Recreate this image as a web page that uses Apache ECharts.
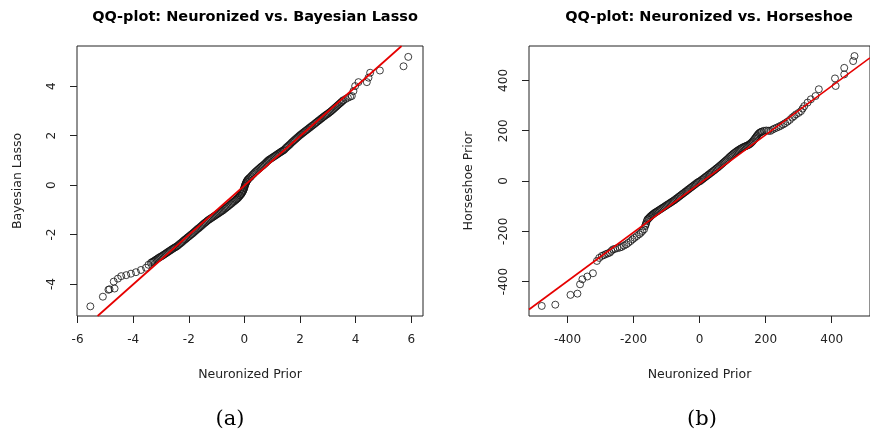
<!DOCTYPE html>
<html><head><meta charset="utf-8">
<script src="https://cdn.jsdelivr.net/npm/echarts@6/dist/echarts.min.js"></script>
<style>html,body{margin:0;padding:0;background:#fff}#c{width:870px;height:436px}</style>
</head><body><div id="c"></div>
<script>
// ---------- data ----------
const titleA = 'QQ-plot: Neuronized vs. Bayesian Lasso';
const titleB = 'QQ-plot: Neuronized vs. Horseshoe';
const xNameA = 'Neuronized Prior', yNameA = 'Bayesian Lasso';
const xNameB = 'Neuronized Prior', yNameB = 'Horseshoe Prior';
const capA = '(a)', capB = '(b)';

const xTicksA = [-6, -4, -2, 0, 2, 4, 6];
const yTicksA = [-4, -2, 0, 2, 4];
const xTicksB = [-400, -200, 0, 200, 400];
const yTicksB = [-400, -200, 0, 200, 400];

// QQ points (a): [Neuronized quantile, Bayesian Lasso quantile]
const qqA = [
  [-5.54,-4.90],[-5.09,-4.51],[-4.89,-4.23],[-4.85,-4.21],[-4.67,-4.18],[-4.70,-3.90],[-4.55,-3.78],
  [-4.43,-3.68],[-4.25,-3.64],[-4.08,-3.58],[-3.90,-3.52],[-3.72,-3.43],[-3.54,-3.34],[-3.45,-3.22],[-3.36,-3.14],
  [-3.32,-3.11],[-3.28,-3.09],[-3.24,-3.06],[-3.20,-3.03],[-3.16,-3.00],[-3.12,-2.97],[-3.08,-2.94],[-3.04,-2.91],
  [-3.00,-2.89],[-2.96,-2.86],[-2.92,-2.83],[-2.88,-2.80],[-2.84,-2.77],[-2.80,-2.74],[-2.76,-2.71],[-2.72,-2.68],
  [-2.68,-2.65],[-2.64,-2.62],[-2.60,-2.59],[-2.56,-2.56],[-2.52,-2.53],[-2.48,-2.51],[-2.44,-2.48],[-2.40,-2.45],
  [-2.36,-2.41],[-2.32,-2.37],[-2.28,-2.34],[-2.24,-2.30],[-2.20,-2.26],[-2.16,-2.22],[-2.12,-2.19],[-2.08,-2.15],
  [-2.04,-2.11],[-2.00,-2.08],[-1.96,-2.04],[-1.92,-2.00],[-1.88,-1.97],[-1.84,-1.93],[-1.80,-1.89],[-1.76,-1.85],
  [-1.72,-1.81],[-1.68,-1.77],[-1.64,-1.74],[-1.60,-1.70],[-1.56,-1.66],[-1.52,-1.62],[-1.48,-1.58],[-1.44,-1.54],
  [-1.40,-1.51],[-1.36,-1.47],[-1.32,-1.43],[-1.28,-1.40],[-1.24,-1.37],[-1.20,-1.34],[-1.16,-1.31],[-1.12,-1.28],
  [-1.08,-1.25],[-1.04,-1.22],[-1.00,-1.19],[-0.96,-1.16],[-0.92,-1.13],[-0.88,-1.10],[-0.84,-1.07],[-0.80,-1.04],
  [-0.76,-1.01],[-0.72,-0.97],[-0.68,-0.94],[-0.64,-0.90],[-0.60,-0.87],[-0.56,-0.83],[-0.52,-0.79],[-0.48,-0.76],
  [-0.44,-0.72],[-0.40,-0.68],[-0.36,-0.65],[-0.32,-0.61],[-0.29,-0.58],[-0.26,-0.55],[-0.23,-0.52],[-0.20,-0.48],
  [-0.17,-0.44],[-0.15,-0.41],[-0.12,-0.37],[-0.10,-0.34],[-0.08,-0.30],[-0.06,-0.26],[-0.04,-0.22],[-0.03,-0.18],
  [-0.01,-0.13],[0.00,-0.09],[0.01,-0.04],[0.02,0.00],[0.04,0.04],[0.05,0.08],[0.07,0.12],[0.08,0.15],[0.10,0.19],
  [0.12,0.22],[0.15,0.26],[0.18,0.29],[0.22,0.33],[0.25,0.37],[0.29,0.42],[0.33,0.46],[0.37,0.51],[0.41,0.55],
  [0.45,0.59],[0.49,0.63],[0.53,0.67],[0.57,0.71],[0.61,0.75],[0.65,0.78],[0.69,0.82],[0.73,0.86],[0.77,0.90],
  [0.80,0.94],[0.84,0.98],[0.87,1.01],[0.91,1.04],[0.95,1.07],[0.99,1.10],[1.03,1.13],[1.07,1.16],[1.11,1.19],
  [1.15,1.22],[1.19,1.25],[1.23,1.28],[1.27,1.31],[1.31,1.34],[1.34,1.36],[1.38,1.39],[1.41,1.41],[1.45,1.45],
  [1.49,1.50],[1.53,1.54],[1.57,1.58],[1.61,1.62],[1.65,1.66],[1.69,1.71],[1.73,1.75],[1.77,1.79],[1.81,1.83],
  [1.85,1.87],[1.89,1.91],[1.93,1.95],[1.97,1.99],[2.01,2.03],[2.05,2.06],[2.09,2.10],[2.13,2.13],[2.17,2.17],
  [2.21,2.20],[2.25,2.24],[2.29,2.27],[2.33,2.31],[2.37,2.34],[2.41,2.38],[2.45,2.41],[2.50,2.45],[2.54,2.49],
  [2.58,2.53],[2.62,2.56],[2.66,2.60],[2.70,2.63],[2.74,2.67],[2.78,2.70],[2.82,2.74],[2.86,2.77],[2.90,2.81],
  [2.94,2.84],[2.98,2.87],[3.02,2.90],[3.06,2.94],[3.10,2.97],[3.14,3.01],[3.18,3.05],[3.22,3.09],[3.26,3.13],
  [3.30,3.17],[3.34,3.21],[3.38,3.25],[3.42,3.29],[3.46,3.33],[3.49,3.36],[3.53,3.40],[3.56,3.43],
  [3.64,3.48],[3.72,3.53],[3.80,3.57],[3.86,3.60],[3.92,3.80],[3.98,4.00],[4.10,4.16],[4.40,4.16],
  [4.46,4.34],[4.52,4.54],[4.87,4.63],[5.72,4.80],[5.89,5.18]
];
// QQ points (b): [Neuronized quantile, Horseshoe quantile]
const qqB = [
  [-478,-497],[-437,-492],[-391,-453],[-370,-448],[-362,-411],[-355,-391],[-340,-380],[-323,-367],
  [-311,-318],[-304,-306],[-296,-298],[-290,-295],[-284,-291],[-278,-288],[-272,-285],[-267,-278],[-262,-272],
  [-256,-270],[-249,-267],[-242,-265],[-236,-262],[-229,-257],[-222,-252],[-216,-246],[-209,-239],[-203,-232],
  [-197,-226],[-190,-219],[-183,-212],[-178,-206],[-173,-199],[-168,-192],
  [-165,-180],[-163.5,-174],[-162,-168],[-160,-160],[-158,-153],[-155.5,-150],[-153,-147],[-150.5,-143],
  [-148,-140],[-145.5,-137],[-143,-134],[-140,-131],[-137,-128],[-134,-125],[-131,-123],[-127.5,-120],
  [-124,-117],[-120.5,-114],[-117,-111],[-113.5,-108],[-110,-105],[-106.5,-102],[-103,-99],[-99.5,-96],
  [-96,-93],[-92.5,-90],[-89,-87],[-85.5,-84],[-82,-81],[-78.5,-78],[-75,-75],[-71.5,-71],[-68,-68],
  [-64.5,-64],[-61,-61],[-57.5,-57],[-54,-54],[-50.5,-50],[-47,-47],[-43.5,-43],[-40,-40],[-36.5,-36],
  [-33,-33],[-29.5,-29],[-26,-26],[-22.5,-22],[-19,-19],[-15.5,-15],[-12,-12],[-8.5,-8],[-5,-5],[-1.5,-2],
  [2,0],[5.5,4],[9,7],[12.5,11],[16,14],[19.5,18],[23,21],[26.5,25],[30,28],[33.5,32],[37,35],[40.5,39],
  [44,42],[47.5,46],[51,50],[54.5,53],[58,57],[61.5,61],[65,65],[68.5,69],[72,73],[75.5,77],[79,81],
  [82.5,85],[86,89],[89.5,94],[93,98],[96.5,102],[100,106],[103.5,110],[107,113],[110.5,117],[114,120],
  [117.5,123],[121,126],[124.5,129],[128,131],[131.5,134],[135,136],[138.5,138],[142,140],[145.5,142],
  [149,144],[152,147],[155,150],[158,154],[161,158],[164,163],[167,168],[169.5,172],[172,177],[174.5,181],
  [177,186],[180,190],[183,193],[186,195],[189,197],
  [195,200],[202,201],[208,200],[214,199],[220,204],[226,208],[233,212],[240,216],[246,220],[253,225],
  [259,230],[266,236],[273,243],[280,252],[286,258],[292,265],[300,271],[307,278],[312,288],[317,298],
  [327,312],[337,325],[351,338],[361,365],[412,378],[410,408],[438,424],[438,450],[465,477],[469,497]
];
// reference (qqline) end points
const lineA = [[-5.28,-5.29],[5.65,5.62]];
const lineB = [[-516.6,-511],[516,490]];

// ---------- chart ----------
const FONT = '"DejaVu Sans", Arial, sans-serif';
const ink = '#222';
function xAxis(idx, min, max, ticks, name) {
  return {
    gridIndex: idx, type: 'value', min: min, max: max,
    axisLine: {show: false, onZero: false}, splitLine: {show: false},
    axisTick: {show: true, length: 7, customValues: ticks, lineStyle: {color: ink, width: 1}},
    axisLabel: {customValues: ticks, margin: 18, fontSize: 12, color: ink, fontFamily: FONT},
    name: name, nameLocation: 'middle', nameGap: 52,
    nameTextStyle: {fontSize: 12.5, color: ink, fontFamily: FONT}
  };
}
function yAxis(idx, min, max, ticks, name, gap) {
  return {
    gridIndex: idx, type: 'value', min: min, max: max,
    axisLine: {show: false, onZero: false}, splitLine: {show: false},
    axisTick: {show: true, length: 7, customValues: ticks, lineStyle: {color: ink, width: 1}},
    axisLabel: {customValues: ticks, margin: 19, rotate: 90, fontSize: 12, color: ink, fontFamily: FONT},
    name: name, nameLocation: 'middle', nameGap: gap,
    nameTextStyle: {fontSize: 12.5, color: ink, fontFamily: FONT}
  };
}
function pts(idx, data) {
  return {
    type: 'scatter', xAxisIndex: idx, yAxisIndex: idx, data: data,
    symbol: 'circle', symbolSize: 7, silent: true, z: 2,
    itemStyle: {color: 'rgba(0,0,0,0)', borderColor: '#111', borderWidth: 1}
  };
}
function ref(idx, data) {
  return {
    type: 'line', xAxisIndex: idx, yAxisIndex: idx, data: data, symbol: 'none',
    silent: true, z: 3, lineStyle: {color: '#e60000', width: 1.7}
  };
}
const chart = echarts.init(document.getElementById('c'), null, {renderer: 'canvas'});
chart.setOption({
  animation: false,
  backgroundColor: '#fff',
  title: [
    {text: titleA, left: 250, top: 5, textAlign: 'center',
     textStyle: {fontSize: 14.5, fontWeight: 'bold', color: '#000', fontFamily: FONT}},
    {text: titleB, left: 704, top: 5, textAlign: 'center',
     textStyle: {fontSize: 14.5, fontWeight: 'bold', color: '#000', fontFamily: FONT}}
  ],
  grid: [
    {left: 77, top: 46, width: 346, height: 270, show: true, borderColor: ink, borderWidth: 1, backgroundColor: 'transparent'},
    {left: 529, top: 46, width: 350, height: 270, show: true, borderColor: ink, borderWidth: 1, backgroundColor: 'transparent'}
  ],
  xAxis: [xAxis(0, -6.02, 6.42, xTicksA, xNameA), xAxis(1, -516.6, 516, xTicksB, xNameB)],
  yAxis: [yAxis(0, -5.29, 5.62, yTicksA, yNameA, 53), yAxis(1, -537, 537, yTicksB, yNameB, 54)],
  series: [pts(0, qqA), ref(0, lineA), pts(1, qqB), ref(1, lineB)],
  graphic: [
    {type: 'text', x: 230, y: 420, style: {text: capA, font: '21px "DejaVu Serif", serif', fill: '#000', align: 'center', verticalAlign: 'middle'}},
    {type: 'text', x: 702, y: 420, style: {text: capB, font: '21px "DejaVu Serif", serif', fill: '#000', align: 'center', verticalAlign: 'middle'}}
  ]
});
</script>
</body></html>
